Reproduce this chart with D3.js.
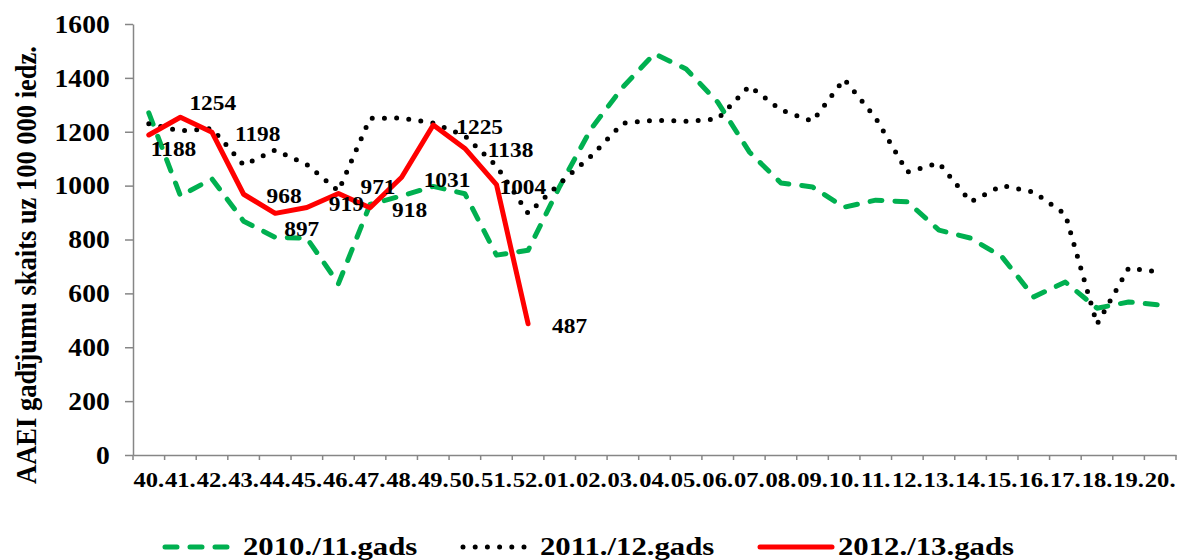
<!DOCTYPE html>
<html>
<head>
<meta charset="utf-8">
<script src="https://cdn.jsdelivr.net/npm/d3@7/dist/d3.min.js"></script>
<style>
  html, body { margin: 0; padding: 0; background: #fff; }
  svg { display: block; }
  text { font-family: "Liberation Serif", "Times New Roman", serif; font-weight: bold; fill: #000; }
</style>
</head>
<body>
<svg id="chart" width="1177" height="560"></svg>
<script>
// ---- data ----
const categories = ["40","41","42","43","44","45","46","47","48","49","50","51","52",
  "01","02","03","04","05","06","07","08","09","10","11","12","13","14","15","16","17","18","19","20"];
const tickLabels = categories.map(c => c + ".");
const yTicks = [0, 200, 400, 600, 800, 1000, 1200, 1400, 1600];
const seriesNames = ["2010./11.gads", "2011./12.gads", "2012./13.gads"];
const season1011 = [1270, 962, 1025, 868, 808, 805, 636, 930, 962, 997, 970, 742, 760,
  997, 1212, 1366, 1490, 1433, 1310, 1125, 1010, 995, 920, 946, 940, 835, 805, 735, 587, 642, 545, 568, 557];
const season1112 = [1230, 1203, 1212, 1076, 1132, 1078, 980, 1250, 1251, 1232, 1185, 1073, 897,
  1008, 1110, 1232, 1243, 1239, 1247, 1370, 1281, 1239, 1395, 1251, 1050, 1084, 940, 1000, 976, 893, 485, 694, 679];
const season1213 = [1188, 1254, 1198, 968, 897, 919, 971, 918, 1031, 1225, 1138, 1004, 487];
const yTitle = "AAEI gadījumu skaits uz 100 000 iedz.";

(function () {
// ---- layout ----
const svg = d3.select("#chart");
const mLeft = 133, mRight = 1176, mTop = 24, mBottom = 455;
const x = d3.scaleBand().domain(categories).range([mLeft, mRight]).padding(0);
const y = d3.scaleLinear().domain([0, 1600]).range([mBottom, mTop]);
const cx = c => x(c) + x.bandwidth() / 2;
const axisColor = "#868686";

// y axis
const gy = svg.append("g").attr("transform", `translate(${mLeft},0)`)
  .call(d3.axisLeft(y).tickValues(yTicks).tickFormat(d3.format("d"))
    .tickSize(8).tickSizeOuter(0).tickPadding(14));
gy.select(".domain").attr("stroke", axisColor).attr("stroke-width", 1.5);
gy.selectAll(".tick line").attr("stroke", axisColor).attr("stroke-width", 1.5);
gy.selectAll(".tick text").attr("font-size", 26).attr("font-family", null)
  .attr("transform", "scale(1.06,1)");

// x axis
const gx = svg.append("g").attr("transform", `translate(0,${mBottom})`)
  .call(d3.axisBottom(x).tickSize(0).tickSizeOuter(0).tickPadding(0).tickFormat((d, i) => tickLabels[i]));
gx.select(".domain").attr("stroke", axisColor).attr("stroke-width", 1.5);
gx.selectAll(".tick text").attr("font-size", 21).attr("font-family", null)
  .attr("y", 32).attr("dy", 0).attr("transform", "scale(1.17,1)");
const bounds = categories.map(c => x(c)).concat([mRight]);
svg.append("g").selectAll("line").data(bounds).join("line")
  .attr("x1", d => d).attr("x2", d => d).attr("y1", mBottom).attr("y2", mBottom + 5)
  .attr("stroke", axisColor).attr("stroke-width", 1.5);

// y title
svg.append("text")
  .attr("transform", `translate(36,265) scale(1.15,1) rotate(-90)`)
  .attr("text-anchor", "middle").attr("font-size", 26.5).text(yTitle);

// lines
const styles = [
  { color: "#00B050", width: 5, dash: "12,13", cap: "round" },
  { color: "#000000", width: 5, dash: "0,12.2", cap: "round" },
  { color: "#FF0000", width: 5, dash: null, cap: "round" }
];
const allSeries = [season1011, season1112, season1213];
const line = d3.line().x(d => cx(d.c)).y(d => y(d.v));
allSeries.forEach((s, k) => {
  const pts = s.map((v, i) => ({ c: categories[i], v }));
  svg.append("path").datum(pts)
    .attr("d", line).attr("fill", "none")
    .attr("stroke", styles[k].color).attr("stroke-width", styles[k].width)
    .attr("stroke-dasharray", styles[k].dash)
    .attr("stroke-linecap", styles[k].cap).attr("stroke-linejoin", "round");
});

// data labels for 2012./13.
const labelOffsets = [[2, 14], [9, -14], [23, 2], [23, 2], [9, 16], [22, -3], [22, -6],
  [22, 2], [22, 3], [23, 2], [23, 2], [3, 2], [24, 2]];
svg.append("g").selectAll("text").data(season1213).join("text")
  .attr("transform", (d, i) => `translate(${cx(categories[i]) + labelOffsets[i][0]},${y(d) + labelOffsets[i][1]}) scale(1.17,1)`)
  .attr("dy", "0.35em").attr("font-size", 20).text(d => d);

// legend
const legendItems = [
  { x1: 165, x2: 237, tx: 243 },
  { x1: 463, x2: 530, tx: 540 },
  { x1: 760, x2: 832, tx: 838 }
];
const lg = svg.append("g");
legendItems.forEach((it, k) => {
  lg.append("line").attr("x1", it.x1).attr("x2", it.x2).attr("y1", 547).attr("y2", 547)
    .attr("stroke", styles[k].color).attr("stroke-width", styles[k].width)
    .attr("stroke-dasharray", styles[k].dash).attr("stroke-linecap", styles[k].cap);
  lg.append("text").attr("transform", `translate(${it.tx},555) scale(1.23,1)`)
    .attr("font-size", 25).text(seriesNames[k]);
});
})();
</script>
</body>
</html>
